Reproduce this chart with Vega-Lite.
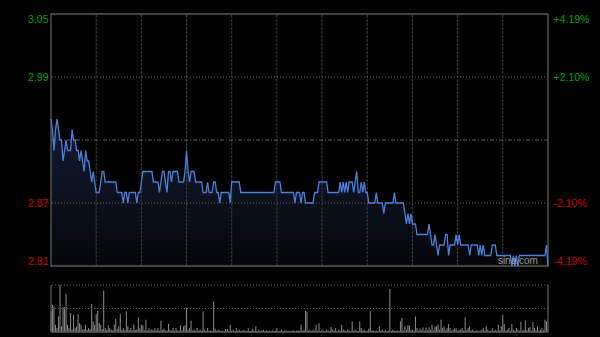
{
"$schema":"https://vega.github.io/schema/vega-lite/v6.json",
"width":497,"height":318,
"autosize":{"type":"none"},
"padding":{"left":51,"top":14,"right":52,"bottom":5},
"background":"#000000",
"config":{"view":{"stroke":null}},
"datasets":{
"series":[
{"m":0,"p":2.95,"v":62},{"m":1,"p":2.94,"v":82},{"m":2,"p":2.92,"v":77},{"m":3,"p":2.94,"v":22},{"m":4,"p":2.95,"v":12},{"m":5,"p":2.94,"v":47},{"m":6,"p":2.93,"v":142},{"m":7,"p":2.93,"v":17},{"m":8,"p":2.91,"v":75},{"m":9,"p":2.92,"v":75},
{"m":10,"p":2.93,"v":115},{"m":11,"p":2.92,"v":22},{"m":12,"p":2.92,"v":12},{"m":13,"p":2.92,"v":57},{"m":14,"p":2.94,"v":8},{"m":15,"p":2.93,"v":52},{"m":16,"p":2.93,"v":12},{"m":17,"p":2.92,"v":17},{"m":18,"p":2.92,"v":54},{"m":19,"p":2.91,"v":27},
{"m":20,"p":2.92,"v":22},{"m":21,"p":2.91,"v":7},{"m":22,"p":2.90,"v":9},{"m":23,"p":2.92,"v":22},{"m":24,"p":2.91,"v":6},{"m":25,"p":2.91,"v":12},{"m":26,"p":2.90,"v":8},{"m":27,"p":2.89,"v":85},{"m":28,"p":2.90,"v":32},{"m":29,"p":2.89,"v":22},
{"m":30,"p":2.88,"v":54},{"m":31,"p":2.88,"v":64},{"m":32,"p":2.88,"v":27},{"m":33,"p":2.89,"v":22},{"m":34,"p":2.90,"v":9},{"m":35,"p":2.90,"v":125},{"m":36,"p":2.89,"v":12},{"m":37,"p":2.89,"v":6},{"m":38,"p":2.89,"v":20},{"m":39,"p":2.89,"v":12},
{"m":40,"p":2.89,"v":7},{"m":41,"p":2.89,"v":5},{"m":42,"p":2.89,"v":22},{"m":43,"p":2.89,"v":40},{"m":44,"p":2.88,"v":8},{"m":45,"p":2.88,"v":17},{"m":46,"p":2.88,"v":54},{"m":47,"p":2.88,"v":6},{"m":48,"p":2.87,"v":12},{"m":49,"p":2.88,"v":5},
{"m":50,"p":2.88,"v":62},{"m":51,"p":2.87,"v":17},{"m":52,"p":2.88,"v":6},{"m":53,"p":2.88,"v":12},{"m":54,"p":2.88,"v":5},{"m":55,"p":2.88,"v":22},{"m":56,"p":2.88,"v":6},{"m":57,"p":2.87,"v":8},{"m":58,"p":2.88,"v":44},{"m":59,"p":2.88,"v":12},
{"m":60,"p":2.89,"v":22},{"m":61,"p":2.90,"v":20},{"m":62,"p":2.90,"v":5},{"m":63,"p":2.90,"v":37},{"m":64,"p":2.90,"v":4},{"m":65,"p":2.90,"v":12},{"m":66,"p":2.90,"v":5},{"m":67,"p":2.90,"v":9},{"m":68,"p":2.89,"v":4},{"m":69,"p":2.89,"v":12},
{"m":70,"p":2.89,"v":5},{"m":71,"p":2.89,"v":12},{"m":72,"p":2.88,"v":4},{"m":73,"p":2.89,"v":34},{"m":74,"p":2.90,"v":6},{"m":75,"p":2.90,"v":10},{"m":76,"p":2.89,"v":4},{"m":77,"p":2.88,"v":5},{"m":78,"p":2.90,"v":25},{"m":79,"p":2.90,"v":7},
{"m":80,"p":2.89,"v":4},{"m":81,"p":2.90,"v":12},{"m":82,"p":2.90,"v":4},{"m":83,"p":2.90,"v":12},{"m":84,"p":2.90,"v":5},{"m":85,"p":2.89,"v":4},{"m":86,"p":2.89,"v":20},{"m":87,"p":2.89,"v":5},{"m":88,"p":2.89,"v":17},{"m":89,"p":2.90,"v":20},
{"m":90,"p":2.92,"v":72},{"m":91,"p":2.90,"v":6},{"m":92,"p":2.89,"v":12},{"m":93,"p":2.90,"v":34},{"m":94,"p":2.90,"v":4},{"m":95,"p":2.90,"v":7},{"m":96,"p":2.89,"v":4},{"m":97,"p":2.89,"v":12},{"m":98,"p":2.89,"v":4},{"m":99,"p":2.89,"v":7},
{"m":100,"p":2.89,"v":4},{"m":101,"p":2.88,"v":62},{"m":102,"p":2.88,"v":7},{"m":103,"p":2.88,"v":3},{"m":104,"p":2.89,"v":12},{"m":105,"p":2.88,"v":4},{"m":106,"p":2.88,"v":5},{"m":107,"p":2.88,"v":3},{"m":108,"p":2.89,"v":92},{"m":109,"p":2.89,"v":10},
{"m":110,"p":2.88,"v":4},{"m":111,"p":2.88,"v":7},{"m":112,"p":2.87,"v":5},{"m":113,"p":2.88,"v":3},{"m":114,"p":2.88,"v":4},{"m":115,"p":2.88,"v":3},{"m":116,"p":2.88,"v":9},{"m":117,"p":2.88,"v":9},{"m":118,"p":2.88,"v":4},{"m":119,"p":2.87,"v":22},
{"m":120,"p":2.89,"v":4},{"m":121,"p":2.89,"v":7},{"m":122,"p":2.89,"v":3},{"m":123,"p":2.89,"v":12},{"m":124,"p":2.89,"v":4},{"m":125,"p":2.89,"v":7},{"m":126,"p":2.88,"v":3},{"m":127,"p":2.88,"v":4},{"m":128,"p":2.88,"v":6},{"m":129,"p":2.88,"v":3},
{"m":130,"p":2.88,"v":4},{"m":131,"p":2.88,"v":12},{"m":132,"p":2.88,"v":3},{"m":133,"p":2.88,"v":4},{"m":134,"p":2.88,"v":9},{"m":135,"p":2.88,"v":3},{"m":136,"p":2.88,"v":17},{"m":137,"p":2.88,"v":3},{"m":138,"p":2.88,"v":7},{"m":139,"p":2.88,"v":3},
{"m":140,"p":2.88,"v":4},{"m":141,"p":2.88,"v":6},{"m":142,"p":2.88,"v":3},{"m":143,"p":2.88,"v":5},{"m":144,"p":2.88,"v":3},{"m":145,"p":2.88,"v":4},{"m":146,"p":2.88,"v":3},{"m":147,"p":2.88,"v":5},{"m":148,"p":2.88,"v":3},{"m":149,"p":2.89,"v":4},
{"m":150,"p":2.89,"v":12},{"m":151,"p":2.89,"v":3},{"m":152,"p":2.89,"v":4},{"m":153,"p":2.88,"v":7},{"m":154,"p":2.88,"v":3},{"m":155,"p":2.88,"v":4},{"m":156,"p":2.88,"v":5},{"m":157,"p":2.88,"v":3},{"m":158,"p":2.88,"v":4},{"m":159,"p":2.88,"v":3},
{"m":160,"p":2.88,"v":4},{"m":161,"p":2.88,"v":5},{"m":162,"p":2.87,"v":3},{"m":163,"p":2.88,"v":4},{"m":164,"p":2.88,"v":5},{"m":165,"p":2.88,"v":3},{"m":166,"p":2.87,"v":22},{"m":167,"p":2.88,"v":4},{"m":168,"p":2.88,"v":7},{"m":169,"p":2.87,"v":64},
{"m":170,"p":2.87,"v":60},{"m":171,"p":2.87,"v":4},{"m":172,"p":2.87,"v":7},{"m":173,"p":2.87,"v":3},{"m":174,"p":2.87,"v":7},{"m":175,"p":2.88,"v":4},{"m":176,"p":2.88,"v":22},{"m":177,"p":2.88,"v":4},{"m":178,"p":2.89,"v":26},{"m":179,"p":2.89,"v":3},
{"m":180,"p":2.89,"v":7},{"m":181,"p":2.89,"v":4},{"m":182,"p":2.89,"v":3},{"m":183,"p":2.89,"v":7},{"m":184,"p":2.88,"v":4},{"m":185,"p":2.88,"v":3},{"m":186,"p":2.88,"v":15},{"m":187,"p":2.88,"v":7},{"m":188,"p":2.88,"v":4},{"m":189,"p":2.88,"v":12},
{"m":190,"p":2.88,"v":3},{"m":191,"p":2.88,"v":7},{"m":192,"p":2.89,"v":4},{"m":193,"p":2.88,"v":22},{"m":194,"p":2.89,"v":7},{"m":195,"p":2.88,"v":4},{"m":196,"p":2.89,"v":3},{"m":197,"p":2.88,"v":7},{"m":198,"p":2.89,"v":4},{"m":199,"p":2.89,"v":3},
{"m":200,"p":2.89,"v":32},{"m":201,"p":2.88,"v":4},{"m":202,"p":2.89,"v":7},{"m":203,"p":2.90,"v":4},{"m":204,"p":2.88,"v":3},{"m":205,"p":2.88,"v":32},{"m":206,"p":2.89,"v":12},{"m":207,"p":2.88,"v":4},{"m":208,"p":2.89,"v":7},{"m":209,"p":2.88,"v":3},
{"m":210,"p":2.88,"v":4},{"m":211,"p":2.87,"v":10},{"m":212,"p":2.87,"v":62},{"m":213,"p":2.87,"v":4},{"m":214,"p":2.87,"v":5},{"m":215,"p":2.87,"v":3},{"m":216,"p":2.88,"v":4},{"m":217,"p":2.87,"v":3},{"m":218,"p":2.87,"v":17},{"m":219,"p":2.87,"v":4},
{"m":220,"p":2.87,"v":7},{"m":221,"p":2.86,"v":3},{"m":222,"p":2.87,"v":7},{"m":223,"p":2.87,"v":3},{"m":224,"p":2.87,"v":4},{"m":225,"p":2.87,"v":130},{"m":226,"p":2.87,"v":3},{"m":227,"p":2.87,"v":7},{"m":228,"p":2.88,"v":4},{"m":229,"p":2.87,"v":3},
{"m":230,"p":2.87,"v":5},{"m":231,"p":2.87,"v":3},{"m":232,"p":2.87,"v":32},{"m":233,"p":2.87,"v":42},{"m":234,"p":2.87,"v":4},{"m":235,"p":2.86,"v":17},{"m":236,"p":2.85,"v":6},{"m":237,"p":2.86,"v":20},{"m":238,"p":2.85,"v":20},{"m":239,"p":2.86,"v":5},
{"m":240,"p":2.85,"v":7},{"m":241,"p":2.85,"v":4},{"m":242,"p":2.85,"v":47},{"m":243,"p":2.84,"v":12},{"m":244,"p":2.84,"v":4},{"m":245,"p":2.84,"v":10},{"m":246,"p":2.84,"v":5},{"m":247,"p":2.84,"v":14},{"m":248,"p":2.84,"v":4},{"m":249,"p":2.84,"v":14},
{"m":250,"p":2.84,"v":5},{"m":251,"p":2.85,"v":14},{"m":252,"p":2.84,"v":6},{"m":253,"p":2.83,"v":22},{"m":254,"p":2.83,"v":5},{"m":255,"p":2.84,"v":17},{"m":256,"p":2.83,"v":17},{"m":257,"p":2.82,"v":22},{"m":258,"p":2.83,"v":6},{"m":259,"p":2.83,"v":37},
{"m":260,"p":2.83,"v":12},{"m":261,"p":2.83,"v":17},{"m":262,"p":2.84,"v":5},{"m":263,"p":2.84,"v":12},{"m":264,"p":2.82,"v":24},{"m":265,"p":2.83,"v":12},{"m":266,"p":2.83,"v":4},{"m":267,"p":2.83,"v":7},{"m":268,"p":2.83,"v":10},{"m":269,"p":2.84,"v":12},
{"m":270,"p":2.83,"v":4},{"m":271,"p":2.84,"v":5},{"m":272,"p":2.83,"v":7},{"m":273,"p":2.83,"v":12},{"m":274,"p":2.83,"v":4},{"m":275,"p":2.83,"v":44},{"m":276,"p":2.83,"v":5},{"m":277,"p":2.83,"v":12},{"m":278,"p":2.82,"v":17},{"m":279,"p":2.83,"v":4},
{"m":280,"p":2.83,"v":7},{"m":281,"p":2.83,"v":3},{"m":282,"p":2.83,"v":4},{"m":283,"p":2.83,"v":5},{"m":284,"p":2.82,"v":3},{"m":285,"p":2.83,"v":4},{"m":286,"p":2.82,"v":7},{"m":287,"p":2.83,"v":12},{"m":288,"p":2.82,"v":4},{"m":289,"p":2.82,"v":17},
{"m":290,"p":2.82,"v":7},{"m":291,"p":2.82,"v":3},{"m":292,"p":2.82,"v":4},{"m":293,"p":2.83,"v":12},{"m":294,"p":2.83,"v":4},{"m":295,"p":2.83,"v":7},{"m":296,"p":2.82,"v":4},{"m":297,"p":2.82,"v":22},{"m":298,"p":2.82,"v":5},{"m":299,"p":2.82,"v":17},
{"m":300,"p":2.82,"v":52},{"m":301,"p":2.82,"v":24},{"m":302,"p":2.82,"v":4},{"m":303,"p":2.82,"v":7},{"m":304,"p":2.82,"v":12},{"m":305,"p":2.82,"v":4},{"m":306,"p":2.81,"v":24},{"m":307,"p":2.82,"v":7},{"m":308,"p":2.81,"v":4},{"m":309,"p":2.82,"v":12},
{"m":310,"p":2.81,"v":7},{"m":311,"p":2.82,"v":4},{"m":312,"p":2.82,"v":30},{"m":313,"p":2.82,"v":4},{"m":314,"p":2.82,"v":7},{"m":315,"p":2.82,"v":35},{"m":316,"p":2.82,"v":5},{"m":317,"p":2.82,"v":12},{"m":318,"p":2.82,"v":15},{"m":319,"p":2.82,"v":4},
{"m":320,"p":2.82,"v":30},{"m":321,"p":2.82,"v":12},{"m":322,"p":2.82,"v":5},{"m":323,"p":2.82,"v":17},{"m":324,"p":2.82,"v":4},{"m":325,"p":2.82,"v":7},{"m":326,"p":2.82,"v":12},{"m":327,"p":2.82,"v":5},{"m":328,"p":2.82,"v":37},{"m":329,"p":2.83,"v":32},
{"m":330,"p":2.81,"v":8}
],
"vgrid":[{"m":30},{"m":60},{"m":90},{"m":120},{"m":150},{"m":180},{"m":210},{"m":240},{"m":270},{"m":300}],
"hgrid":[{"p":2.87},{"p":2.99}],
"midline":[{"p":2.93}],
"priceTicks":[{"p":2.81},{"p":2.87},{"p":2.99},{"p":3.05}],
"panel":[{"name":"price"}],
"watermark":[{"t":"sina.com"}],
"vedges":[{"m":0},{"m":330}],
"vbase":[{"v":0}],
"vgridv":[{"v":71},{"v":142}]
},
"resolve":{"scale":{"y":"independent"},"axis":{"y":"independent"}},
"layer":[
{
"data":{"name":"priceTicks"},
"mark":{"type":"point","opacity":0},
"encoding":{
 "x":{"datum":0,"scale":{"domain":[0,330],"nice":false,"zero":false},"axis":null},
 "y":{"field":"p","type":"quantitative","scale":{"domain":[2.747143,3.05],"nice":false,"zero":false},
  "axis":{"orient":"left","values":[2.81,2.87,2.99,3.05],"title":null,"domain":false,"ticks":false,"grid":false,"labelPadding":3,
   "labelFont":"Liberation Sans","labelFontSize":10.5,"labelOverlap":false,"labelExpr":"format(datum.value,'.2f')",
   "labelColor":{"condition":{"test":"datum.value > 2.93","value":"#00a000"},"value":"#d00000"},
   "labelBaseline":{"condition":[{"test":"datum.value > 3.0","value":"top"},{"test":"datum.value < 2.82","value":"bottom"}],"value":"middle"}}}}
},
{
"data":{"name":"priceTicks"},
"mark":{"type":"point","opacity":0},
"encoding":{
 "x":{"datum":0,"axis":null},
 "y":{"field":"p","type":"quantitative","scale":{"domain":[2.747143,3.05],"nice":false,"zero":false},
  "axis":{"orient":"right","values":[2.81,2.87,2.99,3.05],"title":null,"domain":false,"ticks":false,"grid":false,"labelPadding":5,
   "labelFont":"Liberation Sans","labelFontSize":10.5,"labelOverlap":false,
   "labelExpr":"datum.value > 3.0 ? '+4.19%' : datum.value > 2.95 ? '+2.10%' : datum.value > 2.84 ? '-2.10%' : '-4.19%'",
   "labelColor":{"condition":{"test":"datum.value > 2.93","value":"#00a000"},"value":"#d00000"},
   "labelBaseline":{"condition":[{"test":"datum.value > 3.0","value":"top"},{"test":"datum.value < 2.82","value":"bottom"}],"value":"middle"}}}}
},
{
"layer":[
{"data":{"name":"series"},
 "mark":{"type":"area","color":{"x1":1,"y1":1,"x2":1,"y2":0,"gradient":"linear","stops":[{"offset":0,"color":"#050608"},{"offset":1,"color":"#121d35"}]}},
 "encoding":{
  "x":{"field":"m","type":"quantitative","axis":null},
  "y":{"field":"p","type":"quantitative","scale":{"domain":[2.747143,3.05],"nice":false,"zero":false},"axis":null},
  "y2":{"datum":2.81}}},
{"data":{"name":"vgrid"},
 "mark":{"type":"rule","stroke":"#3c3c3c","strokeWidth":1,"strokeDash":[3,1]},
 "encoding":{"x":{"field":"m","type":"quantitative","axis":null},"y":{"datum":2.81,"axis":null},"y2":{"datum":3.05}}},
{"data":{"name":"hgrid"},
 "mark":{"type":"rule","stroke":"#5a5a5a","strokeWidth":1,"strokeDash":[1,2]},
 "encoding":{"y":{"field":"p","type":"quantitative","axis":null}}},
{"data":{"name":"midline"},
 "mark":{"type":"rule","stroke":"#5e5e5e","strokeWidth":1,"strokeDash":[4,2,1,2]},
 "encoding":{"y":{"field":"p","type":"quantitative","axis":null}}},
{"data":{"name":"panel"},
 "mark":{"type":"rect","fill":"#000000","fillOpacity":0,"stroke":"#5a5a5a","strokeWidth":1.3},
 "encoding":{"x":{"datum":0,"axis":null},"x2":{"datum":330},"y":{"datum":3.05,"axis":null},"y2":{"datum":2.81}}},
{"data":{"name":"series"},
 "mark":{"type":"line","stroke":"#4a80dc","strokeWidth":1.3},
 "encoding":{"x":{"field":"m","type":"quantitative","axis":null},"y":{"field":"p","type":"quantitative","axis":null}}},
{"data":{"name":"watermark"},
 "mark":{"type":"text","font":"Liberation Sans","fontSize":10,"color":"#9a9a9a","align":"center","baseline":"middle"},
 "encoding":{"x":{"datum":310,"axis":null},"y":{"datum":2.8148,"axis":null},"text":{"field":"t"}}}
]
},
{
"layer":[
{"data":{"name":"series"},
 "mark":{"type":"rule","stroke":"#8a8a8a","strokeWidth":1},
 "encoding":{
  "x":{"field":"m","type":"quantitative","axis":null},
  "y":{"field":"v","type":"quantitative","scale":{"domain":[0,960.77],"nice":false},"axis":null},
  "y2":{"datum":0}}},
{"data":{"name":"vgridv"},
 "mark":{"type":"rule","stroke":"#5a5a5a","strokeWidth":1,"strokeDash":[1,2]},
 "encoding":{"y":{"field":"v","type":"quantitative","axis":null}}},
{"data":{"name":"vbase"},
 "mark":{"type":"rule","stroke":"#5a5a5a","strokeWidth":1.3},
 "encoding":{"y":{"field":"v","type":"quantitative","axis":null}}},
{"data":{"name":"vedges"},
 "mark":{"type":"rule","stroke":"#5a5a5a","strokeWidth":1.3},
 "encoding":{"x":{"field":"m","type":"quantitative","axis":null},"y":{"datum":0,"axis":null},"y2":{"datum":142}}}
]
}
]
}
